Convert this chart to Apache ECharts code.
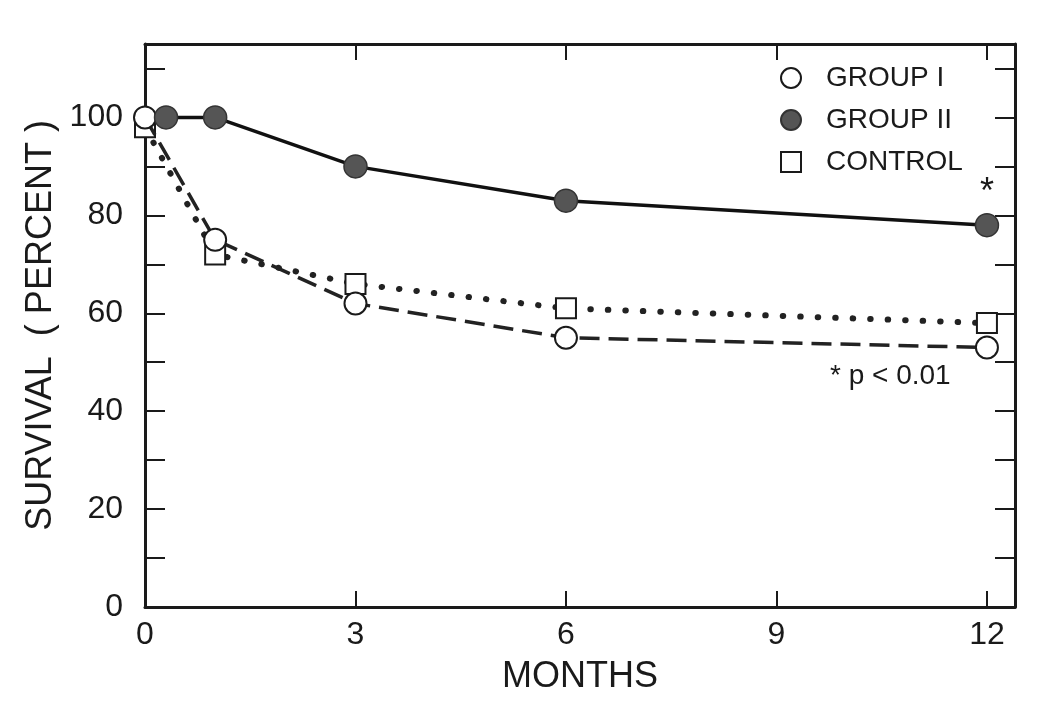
<!DOCTYPE html>
<html>
<head>
<meta charset="utf-8">
<script src="https://cdn.jsdelivr.net/npm/echarts@6/dist/echarts.min.js"></script>
<style>
html,body{margin:0;padding:0;background:#fff;}
#chart{width:1050px;height:711px;}
</style>
</head>
<body>
<div id="chart"></div>
<script>
// Data
const months = [0, 1, 3, 6, 12];
const group2Months = [0.3, 1, 3, 6, 12];
const groupI = [100, 75, 62, 55, 53];
const groupII = [100, 100, 90, 83, 78];
const control = [98, 72, 66, 61, 58];
const xTicks = [0, 3, 6, 9, 12];
const yTicks = [0, 20, 40, 60, 80, 100];
const seriesNames = ['GROUP I', 'GROUP II', 'CONTROL'];
const significance = '* p < 0.01';

const FONT = '"Liberation Sans", Arial, Helvetica, sans-serif';
const INK = '#1a1a1a';

function pairs(xs, ys) { return xs.map((x, i) => [x, ys[i]]); }

const g2data = pairs(group2Months, groupII).map((p, i, arr) => {
  if (i === arr.length - 1) {
    return { value: p, label: { show: true, formatter: '*', position: 'top', distance: 2,
      fontSize: 36, color: INK, fontFamily: FONT } };
  }
  return { value: p };
});

const chart = echarts.init(document.getElementById('chart'), null, { renderer: 'canvas' });

const axisLineStyle = { show: true, onZero: false, lineStyle: { color: INK, width: 3 } };
const tickStyle = (len) => ({ show: true, inside: true, length: len, lineStyle: { color: INK, width: 2 } });

chart.setOption({
  animation: false,
  backgroundColor: '#fff',
  grid: { left: 145, right: 35, top: 44, bottom: 104, containLabel: false },
  legend: {
    orient: 'vertical',
    left: 775,
    top: 58,
    itemWidth: 20,
    itemHeight: 20,
    itemGap: 12,
    textStyle: { fontSize: 28, color: INK, fontFamily: FONT, lineHeight: 30, padding: [0, 0, 0, 20] },
    data: [
      { name: seriesNames[0], icon: 'circle' },
      { name: seriesNames[1], icon: 'circle' },
      { name: seriesNames[2], icon: 'rect' }
    ]
  },
  xAxis: [
    {
      type: 'value', position: 'bottom', min: 0, max: 12.4, interval: 3,
      name: 'MONTHS', nameLocation: 'middle', nameGap: 52,
      nameTextStyle: { fontSize: 36, color: INK, fontFamily: FONT },
      axisLine: axisLineStyle, splitLine: { show: false },
      axisTick: tickStyle(16),
      axisLabel: { show: true, margin: 12, fontSize: 32, color: INK, fontFamily: FONT,
        formatter: v => (xTicks.indexOf(v) >= 0 ? String(v) : '') }
    },
    {
      type: 'value', position: 'top', min: 0, max: 12.4, interval: 3,
      axisLine: axisLineStyle, splitLine: { show: false },
      axisTick: tickStyle(16),
      axisLabel: { show: false }
    }
  ],
  yAxis: [
    {
      type: 'value', position: 'left', min: 0, max: 115, interval: 10,
      name: 'SURVIVAL  ( PERCENT )', nameLocation: 'middle', nameGap: 84,
      nameTextStyle: { fontSize: 36, color: INK, fontFamily: FONT },
      axisLine: axisLineStyle, splitLine: { show: false },
      axisTick: tickStyle(20),
      axisLabel: { show: true, margin: 22, fontSize: 32, color: INK, fontFamily: FONT,
        formatter: v => (yTicks.indexOf(v) >= 0 ? String(v) : '') }
    },
    {
      type: 'value', position: 'right', min: 0, max: 115, interval: 10,
      axisLine: axisLineStyle, splitLine: { show: false },
      axisTick: tickStyle(20),
      axisLabel: { show: false }
    }
  ],
  series: [
    {
      name: seriesNames[2], type: 'line', xAxisIndex: 0, yAxisIndex: 0,
      data: pairs(months, control), clip: false,
      symbol: 'rect', symbolSize: 20,
      itemStyle: { color: '#fff', borderColor: INK, borderWidth: 2 },
      lineStyle: { color: '#222', width: 6, type: [0.5, 17], cap: 'round' },
      z: 2
    },
    {
      name: seriesNames[0], type: 'line', xAxisIndex: 0, yAxisIndex: 0,
      data: pairs(months, groupI), clip: false,
      symbol: 'circle', symbolSize: 22,
      itemStyle: { color: '#fff', borderColor: INK, borderWidth: 2 },
      lineStyle: { color: '#222', width: 3.5, type: [20, 9] },
      z: 3
    },
    {
      name: seriesNames[1], type: 'line', xAxisIndex: 0, yAxisIndex: 0,
      data: g2data, clip: false,
      symbol: 'circle', symbolSize: 23,
      itemStyle: { color: '#555', borderColor: '#333', borderWidth: 1.5 },
      lineStyle: { color: '#111', width: 3.5, type: 'solid' },
      z: 4
    }
  ],
  graphic: [
    {
      type: 'text', left: 830, top: 362,
      style: { text: significance, fontSize: 28, fill: INK, fontFamily: FONT }
    }
  ]
});
</script>
</body>
</html>
